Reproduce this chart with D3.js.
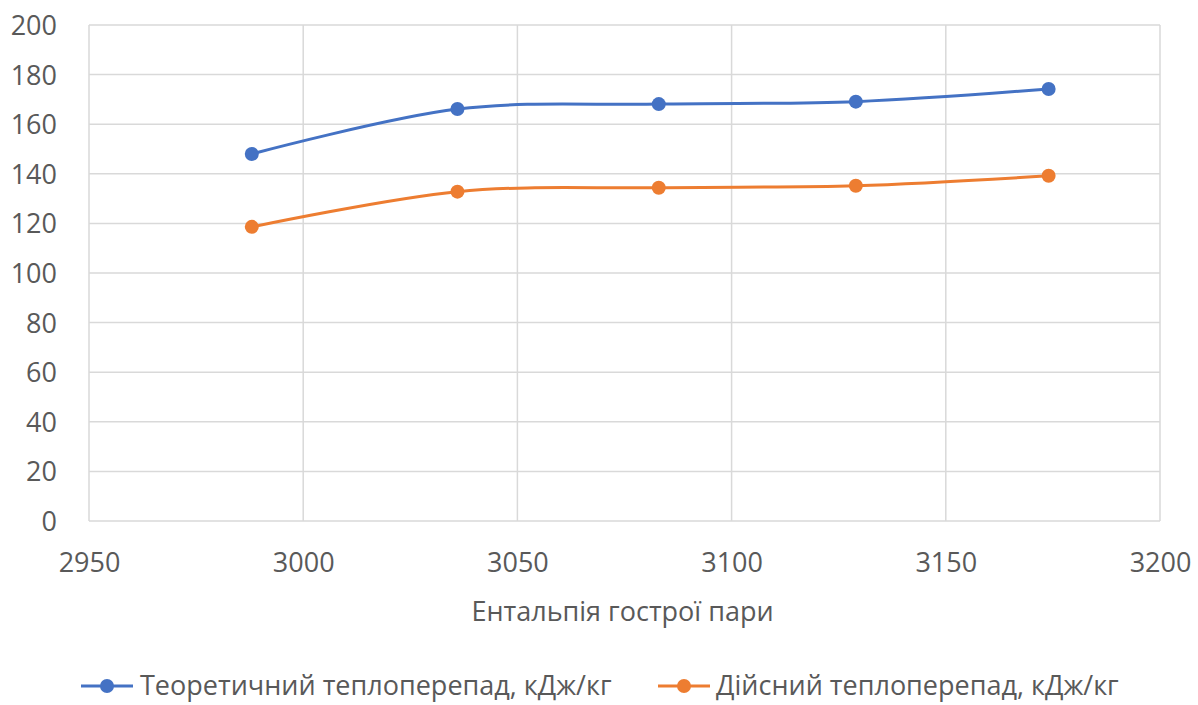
<!DOCTYPE html>
<html>
<head>
<meta charset="utf-8">
<script src="https://cdn.jsdelivr.net/npm/d3@7"></script>
<style>
  html, body { margin: 0; padding: 0; background: #fff; }
  svg { display: block; }
  text { font-family: "Open Sans", "Noto Sans", sans-serif; fill: #595959; }
</style>
</head>
<body>
<svg id="chart" width="1198" height="705"></svg>
<script>
// Steam enthalpy (x) against heat drop (y)
const enthalpy = [2988, 3036, 3083, 3129, 3174];
const theoretical = [148.0, 166.1, 168.1, 169.1, 174.2];
const actual = [118.6, 132.8, 134.4, 135.2, 139.2];
const seriesNames = ["Теоретичний теплоперепад, кДж/кг", "Дійсний теплоперепад, кДж/кг"];
const seriesColors = ["#4472C4", "#ED7D31"];
const xTicks = [2950, 3000, 3050, 3100, 3150, 3200];
const yTicks = [0, 20, 40, 60, 80, 100, 120, 140, 160, 180, 200];
const xTitle = "Ентальпія гострої пари";

const svg = d3.select("#chart");
const margin = { left: 89, right: 38, top: 25, bottom: 184 };
const W = 1198, H = 705;
const fs = 27;

const x = d3.scaleLinear().domain([2950, 3200]).range([margin.left, W - margin.right]);
const y = d3.scaleLinear().domain([0, 200]).range([H - margin.bottom, margin.top]);

// gridlines
const grid = svg.append("g");
grid.selectAll("line.h").data(yTicks).join("line")
  .attr("x1", x(2950)).attr("x2", x(3200))
  .attr("y1", d => y(d)).attr("y2", d => y(d))
  .attr("stroke", "#d9d9d9").attr("stroke-width", 1.5);
grid.selectAll("line.v").data(xTicks).join("line")
  .attr("y1", y(0)).attr("y2", y(200))
  .attr("x1", d => x(d)).attr("x2", d => x(d))
  .attr("stroke", "#d9d9d9").attr("stroke-width", 1.5);

// y axis labels
const yAxis = svg.append("g").attr("transform", `translate(${margin.left - 32},0)`)
  .call(d3.axisLeft(y).tickValues(yTicks).tickSize(0).tickPadding(0));
yAxis.select(".domain").remove();
yAxis.selectAll("text").attr("font-size", fs).attr("font-family", null).attr("fill", "#595959").attr("dy", "0.35em");

// x axis labels
const xAxis = svg.append("g").attr("transform", `translate(0,${y(0) + 32})`)
  .call(d3.axisBottom(x).tickValues(xTicks).tickSize(0).tickPadding(0).tickFormat(d3.format("d")));
xAxis.select(".domain").remove();
xAxis.selectAll("text").attr("font-size", fs).attr("font-family", null).attr("fill", "#595959").attr("dy", "0.71em");

svg.append("text")
  .attr("x", (x(2950) + x(3200)) / 2 - 2).attr("y", 612).attr("dy", "0.35em")
  .attr("text-anchor", "middle").attr("font-size", fs)
  .text(xTitle);

// series
const series = [theoretical, actual];
const line = d3.line().x(d => x(d[0])).y(d => y(d[1])).curve(d3.curveCardinal.tension(0));
series.forEach((vals, i) => {
  const pts = enthalpy.map((e, j) => [e, vals[j]]);
  svg.append("path").datum(pts).attr("d", line)
    .attr("fill", "none").attr("stroke", seriesColors[i]).attr("stroke-width", 3)
    .attr("stroke-linejoin", "round").attr("stroke-linecap", "round");
  svg.append("g").selectAll("circle").data(pts).join("circle")
    .attr("cx", d => x(d[0])).attr("cy", d => y(d[1])).attr("r", 7)
    .attr("fill", seriesColors[i]);
});

// legend
const legendY = 686;
const legendItems = [
  { lx: 81, tx: 140 },
  { lx: 658, tx: 716 }
];
legendItems.forEach((it, i) => {
  const g = svg.append("g");
  g.append("line").attr("x1", it.lx).attr("x2", it.lx + 52)
    .attr("y1", legendY).attr("y2", legendY)
    .attr("stroke", seriesColors[i]).attr("stroke-width", 3);
  g.append("circle").attr("cx", it.lx + 26).attr("cy", legendY).attr("r", 7).attr("fill", seriesColors[i]);
  g.append("text").attr("x", it.tx).attr("y", legendY).attr("dy", "0.35em")
    .attr("font-size", fs).text(seriesNames[i]);
});
</script>
</body>
</html>
